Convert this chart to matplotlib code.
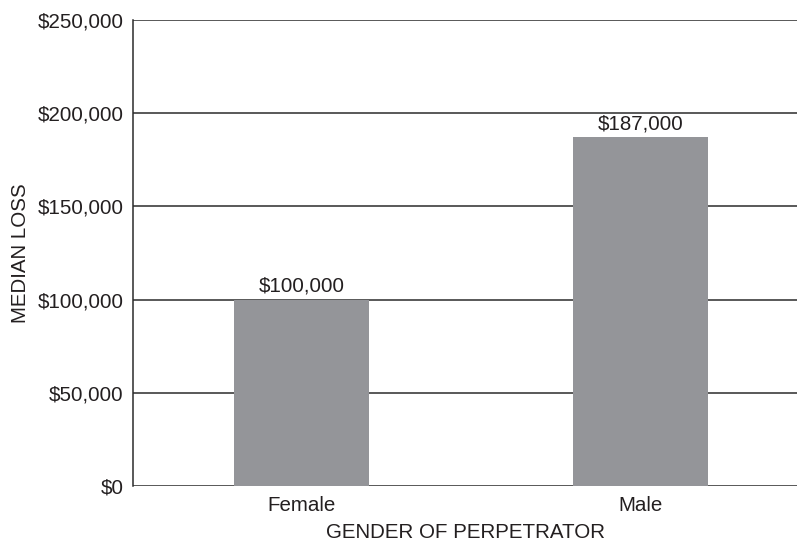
import matplotlib.pyplot as plt
from matplotlib.ticker import FuncFormatter

plt.rcParams['font.family'] = ['Liberation Sans', 'DejaVu Sans']

genders = ['Female', 'Male']
median_loss = [100000, 187000]
y_ticks = [0, 50000, 100000, 150000, 200000, 250000]

fig = plt.figure(figsize=(7.97, 5.43), dpi=100)
ax = fig.add_axes([0.1669, 0.105, 0.8331, 0.858])

x = range(len(genders))
bars = ax.bar(x, median_loss, width=0.397, color='#949599', zorder=3)

# horizontal rules at every tick, bars sit on top of them
for t in y_ticks:
    ax.axhline(t, color='#2b2b2b', lw=1.1, zorder=2)

fs = 14.8
for b, v in zip(bars, median_loss):
    ax.text(b.get_x() + b.get_width() / 2, v + 4200, '${:,.0f}'.format(v),
            ha='center', va='baseline', fontsize=fs, color='#231f20')

ax.set_xlim(-0.496, 1.46)
ax.set_ylim(0, 250000)
ax.set_yticks(y_ticks)
ax.yaxis.set_major_formatter(FuncFormatter(lambda v, p: '${:,.0f}'.format(v)))
ax.set_xticks(list(x))
ax.set_xticklabels(genders)
ax.tick_params(axis='both', length=0, labelsize=fs, colors='#231f20')
ax.tick_params(axis='y', pad=7)
ax.tick_params(axis='x', pad=7)

for s in ['top', 'right', 'bottom']:
    ax.spines[s].set_visible(False)
ax.spines['left'].set_color('#2b2b2b')
ax.spines['left'].set_linewidth(1.1)

ax.set_ylabel('MEDIAN LOSS', fontsize=fs, color='#231f20', labelpad=5)
ax.set_xlabel('GENDER OF PERPETRATOR', fontsize=fs, color='#231f20', labelpad=6)

plt.savefig('out.png', dpi=100)
